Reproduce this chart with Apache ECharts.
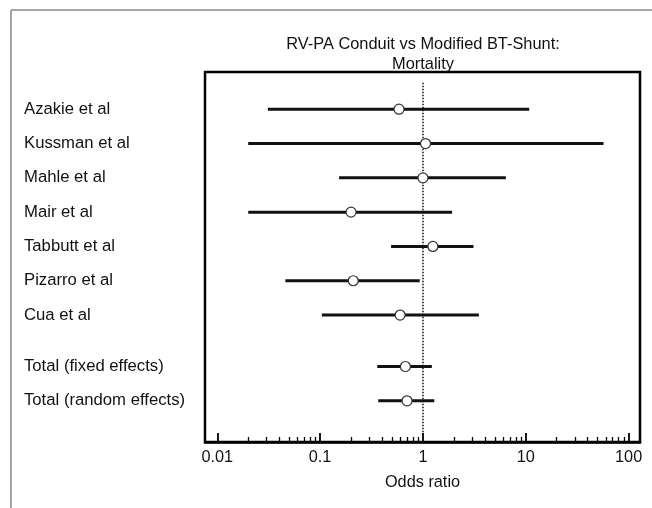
<!DOCTYPE html>
<html>
<head>
<meta charset="utf-8">
<script src="https://cdn.jsdelivr.net/npm/echarts@6/dist/echarts.min.js"></script>
<style>
  html, body { margin: 0; padding: 0; background: #fff; }
  #chart { width: 652px; height: 508px; }
</style>
</head>
<body>
<div id="chart"></div>
<script>
// study names and their vertical slot (gap before totals)
var studies = ['Azakie et al', 'Kussman et al', 'Mahle et al', 'Mair et al', 'Tabbutt et al',
    'Pizarro et al', 'Cua et al', 'Total (fixed effects)', 'Total (random effects)'];
var rowPos = [0, 1, 2, 3, 4, 5, 6, 7.5, 8.5];
// odds ratio with 95% CI
var oddsRatio = [0.585, 1.06, 1.0, 0.2, 1.25, 0.21, 0.6, 0.675, 0.7];
var ciLow = [0.031, 0.020, 0.153, 0.020, 0.49, 0.046, 0.104, 0.36, 0.368];
var ciHigh = [10.8, 57, 6.4, 1.92, 3.1, 0.93, 3.5, 1.22, 1.29];
var majorTicks = [0.01, 0.1, 1, 10, 100];
var minorTicks = [];
[0.01, 0.1, 1, 10].forEach(function (d) {
    for (var k = 2; k <= 9; k++) minorTicks.push(+(d * k).toPrecision(3));
});

var myChart = echarts.init(document.getElementById('chart'));

var ciData = [];
var ptData = [];
for (var i = 0; i < studies.length; i++) {
    ciData.push([ciLow[i], ciHigh[i], rowPos[i]]);
    ptData.push([oddsRatio[i], rowPos[i]]);
}
var labelByPos = {};
rowPos.forEach(function (p, i) { labelByPos[p] = studies[i]; });

var xMin = 0.0076, xMax = 129;
var font = 'Liberation Sans, Arial, sans-serif';

var option = {
    backgroundColor: '#fff',
    animation: false,
    grid: {
        left: 205, right: 12, top: 72, bottom: 66,
        show: true,
        borderColor: '#000',
        borderWidth: 2.5
    },
    xAxis: [
        {
            type: 'log', min: xMin, max: xMax, position: 'bottom',
            axisLine: { show: true, onZero: false, lineStyle: { color: '#000', width: 2.5 } },
            axisTick: { show: true, inside: true, length: 9, customValues: majorTicks, lineStyle: { color: '#000', width: 1.8 } },
            axisLabel: {
                customValues: majorTicks, margin: 8, color: '#111', fontSize: 16.3, fontFamily: font,
                formatter: function (v) { return String(+v.toPrecision(3)); }
            },
            splitLine: { show: false },
            name: 'Odds ratio', nameLocation: 'middle', nameGap: 33,
            nameTextStyle: { color: '#111', fontSize: 16.3, fontFamily: font }
        },
        {
            type: 'log', min: xMin, max: xMax, position: 'bottom',
            axisLine: { show: false, onZero: false },
            axisTick: { show: true, inside: true, length: 5, customValues: minorTicks, lineStyle: { color: '#000', width: 1.3 } },
            axisLabel: { show: false },
            splitLine: { show: false }
        }
    ],
    yAxis: {
        type: 'value', inverse: true, min: -1.085, max: 9.7,
        axisLine: { show: false },
        axisTick: { show: false },
        splitLine: { show: false },
        axisLabel: {
            customValues: rowPos, align: 'left', margin: 181,
            color: '#111', fontSize: 16.7, fontFamily: font,
            formatter: function (v) { return labelByPos[v] || ''; }
        }
    },
    graphic: [
        { type: 'line', shape: { x1: 11, y1: 10, x2: 652, y2: 10 }, style: { stroke: '#888', lineWidth: 1.5 } },
        { type: 'line', shape: { x1: 11, y1: 10, x2: 11, y2: 508 }, style: { stroke: '#888', lineWidth: 1.5 } },
        {
            type: 'text', x: 423, y: 35, z: 10,
            style: {
                text: 'RV-PA Conduit vs Modified BT-Shunt:\nMortality', align: 'center',
                fill: '#111', font: '16.4px ' + font, lineHeight: 19.5
            }
        }
    ],
    series: [
        {
            type: 'custom',
            data: ciData,
            encode: { x: [0, 1], y: 2 },
            renderItem: function (params, api) {
                var a = api.coord([api.value(0), api.value(2)]);
                var b = api.coord([api.value(1), api.value(2)]);
                return {
                    type: 'line',
                    shape: { x1: a[0], y1: a[1], x2: b[0], y2: b[1] },
                    style: { stroke: '#111', lineWidth: 3 }
                };
            },
            z: 2,
            markLine: {
                silent: true, symbol: 'none', label: { show: false },
                lineStyle: { type: 'dotted', color: '#111', width: 1.5 },
                data: [[{ coord: [1, -0.77] }, { coord: [1, 9.7] }]]
            }
        },
        {
            type: 'scatter',
            data: ptData,
            symbol: 'circle',
            symbolSize: 10,
            itemStyle: { color: '#fff', borderColor: '#333', borderWidth: 1.2, opacity: 1 },
            z: 5
        }
    ]
};
myChart.setOption(option);
</script>
</body>
</html>
